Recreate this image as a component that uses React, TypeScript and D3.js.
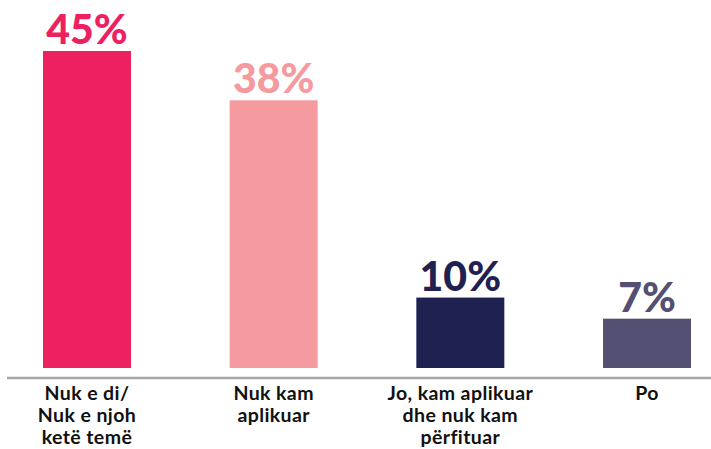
import React from "react";
import * as d3 from "d3";

const categories: string[][] = [
  ["Nuk e di/", "Nuk e njoh", "ketë temë"],
  ["Nuk kam", "aplikuar"],
  ["Jo, kam aplikuar", "dhe nuk kam", "përfituar"],
  ["Po"],
];
const values: number[] = [45, 38, 10, 7];
const valueLabels: string[] = ["45%", "38%", "10%", "7%"];
const colors: string[] = ["#EE2160", "#F59A9E", "#1F2251", "#535073"];

const W = 711;
const H = 449;

export default function App() {
  const keys = categories.map((_, i) => String(i));
  const x = d3.scaleBand<string>().domain(keys).range([43, 691]).paddingInner(0.5286).paddingOuter(0);
  const y = d3.scaleLinear().domain([0, 45]).range([368, 51]);

  return (
    <svg
      width={W}
      height={H}
      style={{ position: "absolute", left: 0, top: 0, background: "#fff" }}
    >
      {values.map((v, i) => {
        const x0 = x(keys[i])!;
        const bw = x.bandwidth();
        return (
          <g key={i}>
            <rect x={x0} y={y(v)} width={bw} height={y(0) - y(v)} fill={colors[i]} />
            <text
              x={x0 + bw / 2}
              y={y(v) - 7}
              textAnchor="middle"
              fill={colors[i]}
              style={{ fontFamily: "Lato", fontWeight: 900, fontSize: 41 }}
            >
              {valueLabels[i]}
            </text>
            {categories[i].map((line, j) => (
              <text
                key={j}
                x={x0 + bw / 2}
                y={400 + j * 21.8}
                textAnchor="middle"
                fill="#111"
                style={{ fontFamily: "Lato", fontWeight: 700, fontSize: 19.5, letterSpacing: 0.4 }}
              >
                {line}
              </text>
            ))}
          </g>
        );
      })}
      <line x1={7} x2={W} y1={378} y2={378} stroke="#A6A6A6" strokeWidth={2.5} />
    </svg>
  );
}
